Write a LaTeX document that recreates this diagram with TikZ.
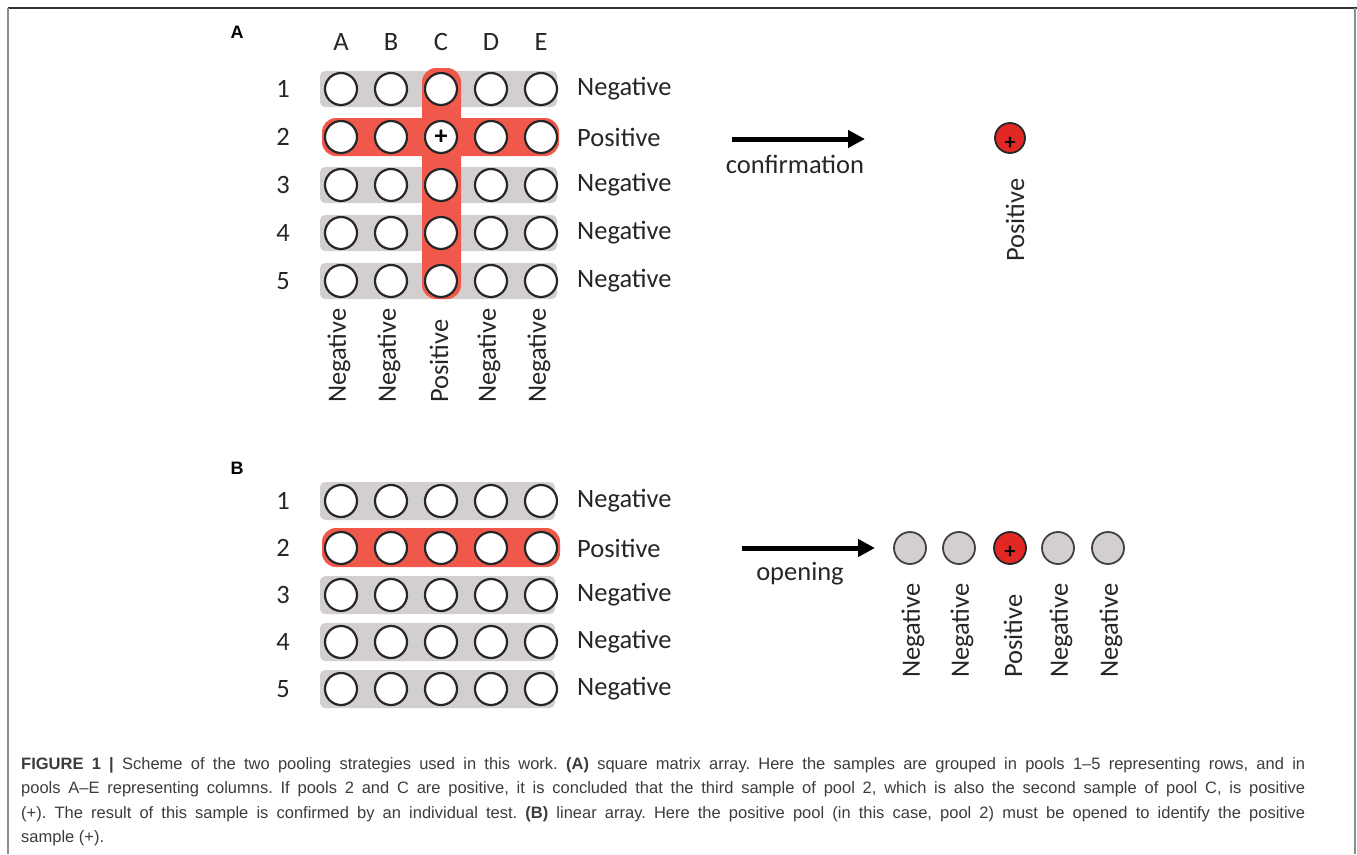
\documentclass[tikz,border=0pt]{standalone}
\usepackage{fontspec}
\setmainfont{Carlito}
\newfontfamily\capfont{Liberation Sans}
\usetikzlibrary{positioning}
\usetikzlibrary{arrows.meta}
\frenchspacing
\definecolor{poolgray}{RGB}{212,207,207}
\definecolor{poolred}{RGB}{240,88,76}
\definecolor{hitred}{RGB}{226,40,36}
\definecolor{capgray}{RGB}{60,60,60}
\tikzset{
  txt/.style = {inner sep=0pt, text=black!85,
    font=\fontsize{26.5}{30}\selectfont},
  txt_v/.style = {txt, rotate=90, anchor=west},% result, read upwards
  panel/.style = {inner sep=0pt, font=\capfont\bfseries\fontsize{18}{20}\selectfont},
  well_n/.style = {circle, draw=black!85, line width=2.2pt, fill=white,
    minimum size=32pt, inner sep=0pt},% well, not opened
  well_g/.style = {well_n, fill=poolgray, draw=black!75, line width=1.8pt},% opened, negative
  well_r/.style = {well_n, fill=hitred, draw=black!85, line width=1.8pt},% opened, positive
  plus/.style = {inner sep=0pt, font=\bfseries\fontsize{26}{26}\selectfont},
  pool_g/.style = {fill=poolgray, rounded corners=5pt},
  pool_r/.style = {fill=poolred, rounded corners=14pt},
  bigarrow/.style = {line width=5pt, -{Triangle[length=17pt,width=17pt]}},
  capline/.style = {inner sep=0pt, anchor=base west, text=capgray,
    font=\capfont\fontsize{16.5}{18}\selectfont}
}

\begin{document}
\begin{tikzpicture}[x=1pt,y=-1pt]
\useasboundingbox (0,0) rectangle (1357,854);
% frame
\draw[black!80, line width=2pt] (8,8) -- (1357,8);
\draw[black!45, line width=2pt] (8,8) -- (8,854);
\draw[black!45, line width=2pt] (1355,8) -- (1355,854);

%%% A : square matrix
\node[panel] (pA) at (237,32) {A};
\foreach \y in {89,185,233,281}
  \fill[pool_g] (320,\y-18) rectangle (557,\y+18);
\fill[pool_r] (322,118) rectangle (559,156);
\fill[pool_r] (422,68) rectangle (461,299);
\foreach \c [count=\i] in {A,B,C,D,E}
  \node[txt] (hA\c) at (291+50*\i,42) {\c};
\foreach \r in {1,...,5}{
  \node[txt] (rA\r) at (283,41+48*\r) {\r};
  \foreach \c [count=\i] in {A,B,C,D,E}
    \node[well_n] (wA\c\r) at (291+50*\i,41+48*\r) {};
}
\node[plus] at (wAC2) {+};
\foreach \r/\t in {1/Negative,2/Positive,3/Negative,4/Negative,5/Negative}
  \node[txt, anchor=west] (tA\r) at (577,41+48*\r) {\t};
\foreach \c/\t [count=\i] in {A/Negative,B/Negative,C/Positive,D/Negative,E/Negative}
  \node[txt_v] (vA\c) at (289+50*\i,403) {\t};

% confirmation
\coordinate (a1s) at (732,139);
\coordinate (a1e) at (865,139);
\draw[bigarrow] (a1s) -- (a1e);
\node[txt] (lA) at (795,164) {confirmation};
\node[well_r, minimum size=30pt] (resA) at (1010,138) {};
\node[plus, font=\bfseries\fontsize{22}{22}\selectfont] at ([yshift=-5pt]resA.center) {+};
\node[txt_v] (vres) at (1015,262) {Positive};

%%% B : linear array
\node[panel] (pB) at (237,468) {B};
\foreach \y in {501,595,642,689}
  \fill[pool_g] (320,\y-19) rectangle (555,\y+19);
\fill[pool_r] (322,528) rectangle (560,567);
\foreach \r in {1,...,5}{
  \node[txt] (rB\r) at (283,454+47*\r) {\r};
  \foreach \c [count=\i] in {A,B,C,D,E}
    \node[well_n] (wB\c\r) at (291+50*\i,454+47*\r) {};
}
\foreach \r/\t in {1/Negative,2/Positive,3/Negative,4/Negative,5/Negative}
  \node[txt, anchor=west] (tB\r) at (577,454+47*\r) {\t};

% opening
\coordinate (a2s) at (742,548);
\coordinate (a2e) at (875,548);
\draw[bigarrow] (a2s) -- (a2e);
\node[txt] (lB) at (800,574) {opening};
\foreach \x/\s/\t [count=\i] in {910/well_g/Negative,959/well_g/Negative,1010/well_r/Positive,1058/well_g/Negative,1108/well_g/Negative}{
  \node[\s] (oB\i) at (\x,548) {};
  \node[txt_v] (vB\i) at (\x+3,678) {\t};
}
\node[plus, font=\bfseries\fontsize{22}{22}\selectfont] at ([yshift=-4pt]oB3.center) {+};

%%% caption
\node[capline] (cap1) at (21,769) {\makebox[1284pt][s]{\textbf{FIGURE 1 |} Scheme of the two pooling strategies used in this work. \textbf{(A)} square matrix array. Here the samples are grouped in pools 1–5 representing rows, and in}};
\node[capline] (cap2) at (21,793.5) {\makebox[1284pt][s]{pools A–E representing columns. If pools 2 and C are positive, it is concluded that the third sample of pool 2, which is also the second sample of pool C, is positive}};
\node[capline] (cap3) at (21,818) {\makebox[1284pt][s]{(+). The result of this sample is confirmed by an individual test. \textbf{(B)} linear array. Here the positive pool (in this case, pool 2) must be opened to identify the positive}};
\node[capline] (cap4) at (21,842.5) {sample (+).};
\end{tikzpicture}
\end{document}
